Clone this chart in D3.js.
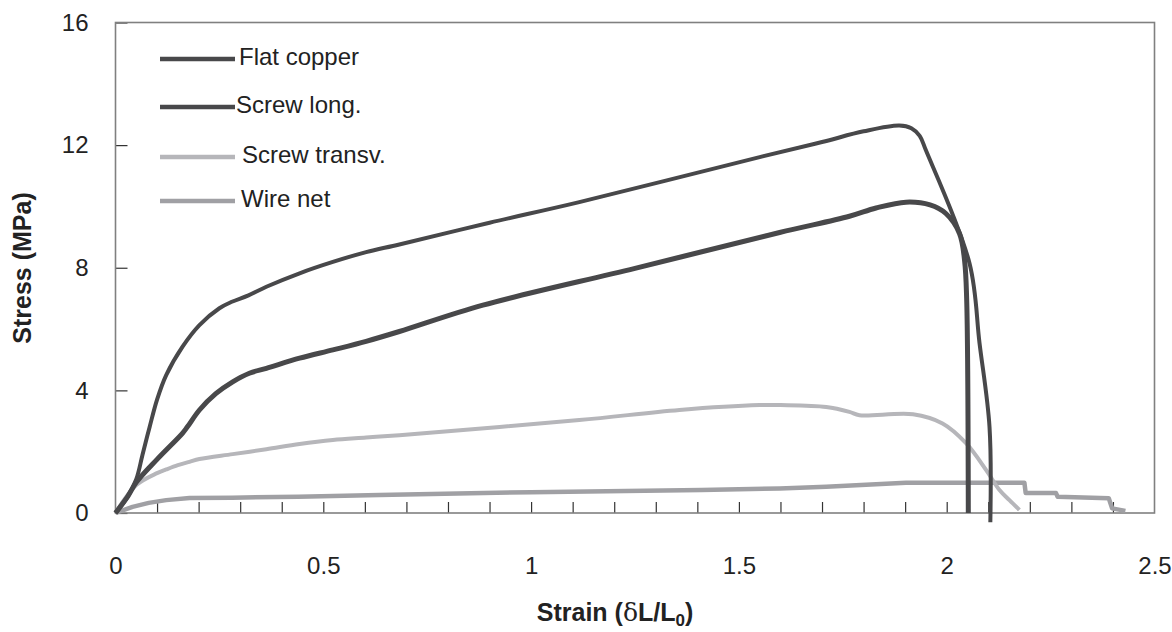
<!DOCTYPE html>
<html>
<head>
<meta charset="utf-8">
<script src="https://cdn.jsdelivr.net/npm/d3@7"></script>
<style>
  body { margin: 0; background: #fff; }
  svg { display: block; font-family: "Liberation Sans", Arial, sans-serif; }
</style>
</head>
<body>
<svg id="chart" width="1172" height="632"></svg>
<script>
// data: [strain, stress MPa]
const flatCopper = [
  [0, 0], [0.03, 0.55], [0.05, 1.1], [0.065, 1.9], [0.082, 2.8], [0.1, 3.7], [0.122, 4.5],
  [0.161, 5.42], [0.202, 6.13], [0.25, 6.68], [0.28, 6.89], [0.32, 7.1], [0.363, 7.38],
  [0.443, 7.82], [0.523, 8.19], [0.603, 8.51], [0.683, 8.76], [0.9, 9.47], [1.116, 10.14],
  [1.55, 11.61], [1.7, 12.1], [1.8, 12.45], [1.886, 12.64], [1.915, 12.55], [1.935, 12.3],
  [1.95, 11.83], [2.055, 8.14], [2.079, 5.54], [2.103, 2.81], [2.105, -0.3]
];
const screwLong = [
  [0, 0], [0.03, 0.55], [0.05, 1.0], [0.1, 1.75], [0.161, 2.6], [0.173, 2.81], [0.202, 3.36],
  [0.242, 3.9], [0.282, 4.28], [0.322, 4.56], [0.363, 4.72], [0.443, 5.05], [0.523, 5.32],
  [0.603, 5.6], [0.683, 5.92], [0.884, 6.78], [1.25, 7.98], [1.598, 9.15], [1.766, 9.68],
  [1.83, 9.95], [1.902, 10.14], [1.96, 10.05], [1.998, 9.77], [2.031, 9.11], [2.043, 8.24],
  [2.048, 7.0], [2.052, 0]
];
const screwTransv = [
  [0, 0], [0.05, 0.91], [0.1, 1.3], [0.122, 1.42], [0.15, 1.56], [0.178, 1.67], [0.202, 1.76],
  [0.282, 1.92], [0.363, 2.08], [0.443, 2.25], [0.523, 2.38], [0.603, 2.46], [0.683, 2.54],
  [1.116, 3.03], [1.357, 3.36], [1.55, 3.52], [1.6, 3.52], [1.71, 3.46], [1.766, 3.3],
  [1.79, 3.19], [1.919, 3.22], [1.99, 2.92], [2.047, 2.27], [2.095, 1.4], [2.127, 0.75],
  [2.151, 0.42], [2.175, 0.1]
];
const wireNet = [
  [0, 0], [0.041, 0.2], [0.08, 0.33], [0.122, 0.42], [0.178, 0.49], [0.28, 0.5], [0.44, 0.53],
  [0.635, 0.59], [1.0, 0.68], [1.41, 0.75], [1.598, 0.8], [1.71, 0.86], [1.902, 0.99],
  [2.187, 0.99], [2.19, 0.65], [2.263, 0.65], [2.267, 0.53], [2.39, 0.48], [2.398, 0.15],
  [2.43, 0.07]
];

const seriesNames = ['Flat copper', 'Screw long.', 'Screw transv.', 'Wire net'];
const xTicksLabelled = [0, 0.5, 1, 1.5, 2, 2.5];
const yTicks = [0, 4, 8, 12, 16];

const svg = d3.select('#chart');

// scales
const x = d3.scaleLinear().domain([0, 2.5]).range([115.5, 1154.5]);
const y = d3.scaleLinear().domain([0, 16]).range([513, 22.5]);

// minor ticks on x, every 0.1, pointing up into the plot
const minor = d3.range(1, 25).map((d) => d / 10);
svg.append('g')
  .attr('transform', `translate(0,${y(0)})`)
  .call(d3.axisBottom(x).tickValues(minor).tickSize(-11).tickFormat(''))
  .call((g) => g.select('.domain').remove())
  .call((g) => g.selectAll('line').attr('stroke', '#333').attr('stroke-width', 1.2));

// labels of x
svg.append('g')
  .attr('transform', `translate(0,${y(0)})`)
  .call(d3.axisBottom(x).tickValues(xTicksLabelled).tickSize(0).tickPadding(44).tickFormat(d3.format('')))
  .call((g) => g.select('.domain').remove())
  .call((g) => g.selectAll('text').attr('font-size', 24).attr('fill', '#222').attr('font-family', null));

// y axis, ticks inward
svg.append('g')
  .attr('transform', `translate(${x(0)},0)`)
  .call(d3.axisLeft(y).tickValues(yTicks).tickSize(-12).tickPadding(27))
  .call((g) => g.select('.domain').remove())
  .call((g) => g.selectAll('line').attr('stroke', '#333').attr('stroke-width', 1.2))
  .call((g) => g.selectAll('text').attr('font-size', 24).attr('fill', '#222').attr('font-family', null));

// frame
svg.append('rect')
  .attr('x', x(0)).attr('y', y(16))
  .attr('width', x(2.5) - x(0)).attr('height', y(0) - y(16))
  .attr('fill', 'none').attr('stroke', '#808080').attr('stroke-width', 1.6);

// curves
const lineSmooth = d3.line().x((d) => x(d[0])).y((d) => y(d[1])).curve(d3.curveCatmullRom.alpha(0.5));
const lineStraight = d3.line().x((d) => x(d[0])).y((d) => y(d[1]));

const curves = [
  { data: wireNet, color: '#a0a0a4', width: 4.5, line: lineStraight },
  { data: screwTransv, color: '#b6b6ba', width: 4, line: lineSmooth },
  { data: screwLong, color: '#48484a', width: 5, line: lineSmooth },
  { data: flatCopper, color: '#48484a', width: 4, line: lineSmooth }
];

svg.append('g').selectAll('path')
  .data(curves)
  .enter()
  .append('path')
  .attr('d', (d) => d.line(d.data))
  .attr('fill', 'none')
  .attr('stroke', (d) => d.color)
  .attr('stroke-width', (d) => d.width)
  .attr('stroke-linejoin', 'round');

// legend
const legendY = [59, 107, 157, 201];
const legendColor = ['#48484a', '#48484a', '#b6b6ba', '#a0a0a4'];
const legendTextX = [239, 236, 242, 241];
const legend = svg.append('g');
seriesNames.forEach((name, i) => {
  legend.append('line')
    .attr('x1', 160).attr('x2', 235)
    .attr('y1', legendY[i]).attr('y2', legendY[i])
    .attr('stroke', legendColor[i]).attr('stroke-width', 4.5);
  legend.append('text')
    .attr('x', legendTextX[i]).attr('y', legendY[i] - 3)
    .attr('dominant-baseline', 'central')
    .attr('font-size', 24).attr('fill', '#222')
    .text(name);
});

// axis titles
const xt = svg.append('text')
  .attr('x', 615).attr('y', 621)
  .attr('text-anchor', 'middle')
  .attr('font-size', 25).attr('font-weight', 'bold').attr('fill', '#222');
xt.append('tspan').text('Strain (');
xt.append('tspan').attr('font-family', '"DejaVu Serif", "Liberation Serif", serif').attr('font-weight', 'normal').text('δ');
xt.append('tspan').text('L/L');
xt.append('tspan').attr('font-size', 17).attr('dy', 5).text('0');
xt.append('tspan').attr('dy', -5).text(')');

svg.append('text')
  .attr('transform', 'translate(31,268) rotate(-90)')
  .attr('text-anchor', 'middle')
  .attr('font-size', 25).attr('font-weight', 'bold').attr('fill', '#222')
  .text('Stress (MPa)');
</script>
</body>
</html>
